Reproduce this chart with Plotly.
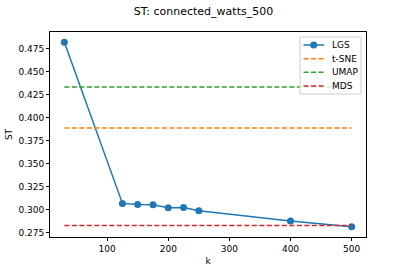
import plotly.graph_objects as go

k_values = [30, 125, 150, 175, 200, 225, 250, 400, 500]
lgs_values = [0.4821, 0.3067, 0.3056, 0.3053, 0.3020, 0.3021, 0.2988, 0.2875, 0.2813]
tsne_value = 0.3888
umap_value = 0.4335
mds_value = 0.2826
x_ticks = [100, 200, 300, 400, 500]
y_ticks = [0.275, 0.300, 0.325, 0.350, 0.375, 0.400, 0.425, 0.450, 0.475]
series_names = ["LGS", "t-SNE", "UMAP", "MDS"]
series_colors = ["#1f77b4", "#ff7f0e", "#2ca02c", "#d62728"]

DASH = "5px,2.5px"

fig = go.Figure()
fig.add_trace(go.Scatter(x=k_values, y=lgs_values, mode="lines+markers", name=series_names[0],
                         line=dict(color=series_colors[0], width=1.5),
                         marker=dict(color=series_colors[0], size=7), showlegend=False))
xs = [min(k_values), max(k_values)]
for name, val, col in zip(series_names[1:], [tsne_value, umap_value, mds_value], series_colors[1:]):
    fig.add_trace(go.Scatter(x=xs, y=[val, val], mode="lines", name=name,
                             line=dict(color=col, width=1.5, dash=DASH), showlegend=False))

# plot area in pixels (for the hand-drawn legend)
L, R, T, B = 50, 366, 32, 237
def px(x):
    return (x - L) / (R - L)
def py(y):
    return (B - y) / (B - T)

shapes = [dict(type="rect", xref="paper", yref="paper",
               x0=px(300), x1=px(361), y0=py(94), y1=py(37),
               line=dict(color="#cccccc", width=1), fillcolor="rgba(255,255,255,0.8)", layer="above")]
annotations = []
rows = [45, 58.7, 72.3, 86]
for i, (name, col) in enumerate(zip(series_names, series_colors)):
    yy = rows[i]
    shapes.append(dict(type="line", xref="paper", yref="paper", x0=px(303.5), x1=px(324), y0=py(yy), y1=py(yy),
                       line=dict(color=col, width=1.5, dash="solid" if i == 0 else DASH), layer="above"))
    if i == 0:
        shapes.append(dict(type="circle", xref="paper", yref="paper",
                           x0=px(313.7 - 3.5), x1=px(313.7 + 3.5), y0=py(yy + 3.5), y1=py(yy - 3.5),
                           line=dict(color=col, width=0), fillcolor=col, layer="above"))
    annotations.append(dict(xref="paper", yref="paper", x=px(330), y=py(yy), text=name, showarrow=False,
                            xanchor="left", yanchor="middle", font=dict(size=9, color="black")))

axis_common = dict(showline=True, linecolor="black", linewidth=1, mirror=True,
                   ticks="outside", ticklen=3, tickcolor="black", showgrid=False,
                   zeroline=False, tickfont=dict(size=9, color="black"), automargin=False)
fig.update_xaxes(range=[6.5, 523.5], tickvals=x_ticks,
                 title=dict(text="k", font=dict(size=9, color="black"), standoff=4), **axis_common)
fig.update_yaxes(range=[0.2701, 0.4933], tickvals=y_ticks, tickformat=".3f",
                 title=dict(text="ST", font=dict(size=9, color="black"), standoff=4), **axis_common)

fig.update_layout(
    width=407, height=271,
    margin=dict(l=L, r=407 - R, t=T, b=271 - B),
    paper_bgcolor="white", plot_bgcolor="white",
    font=dict(family="DejaVu Sans", color="black"),
    title=dict(text="ST: connected_watts_500", x=0.5, xanchor="center", y=0.96, yanchor="middle",
               font=dict(size=11, color="black")),
    shapes=shapes, annotations=annotations,
    showlegend=False,
)
fig.write_html("out.html", config={"displayModeBar": False},
               post_script="document.body.style.margin='0';document.body.style.overflow='hidden';")
